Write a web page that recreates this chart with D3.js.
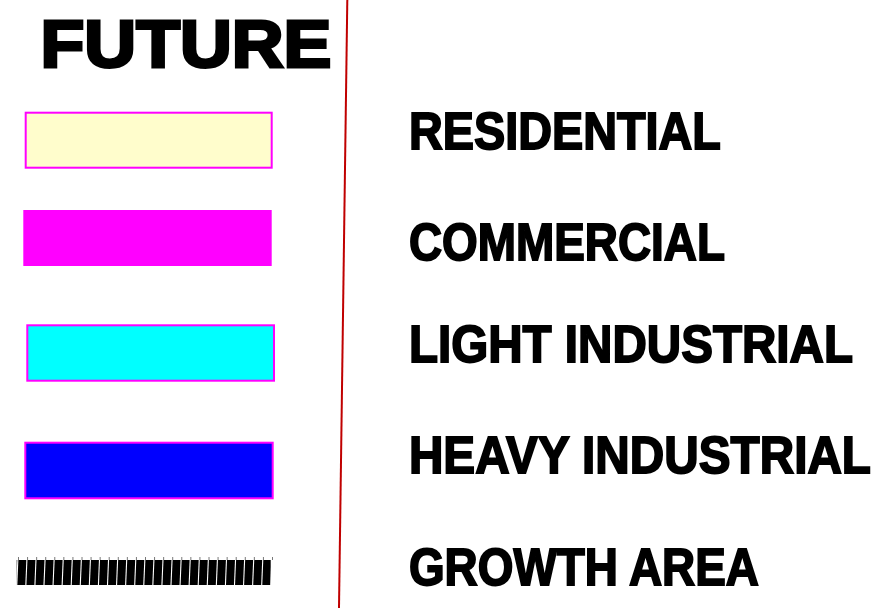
<!DOCTYPE html>
<html>
<head>
<meta charset="utf-8">
<script src="https://cdn.jsdelivr.net/npm/d3@7"></script>
<style>
html,body{margin:0;padding:0;background:#fff;}
svg{display:block;}
</style>
</head>
<body>
<script>
// ---- data ----
const title = "FUTURE";
const categories = ["RESIDENTIAL", "COMMERCIAL", "LIGHT INDUSTRIAL", "HEAVY INDUSTRIAL", "GROWTH AREA"];
const fills = ["#FFFDCC", "#FF00FF", "#00FFFF", "#0000FF", "hatch"];
const borders = ["#FF00FF", "none", "#FF00FF", "#FF00FF", "none"];
const hatchCount = 28;

// ---- layout (separate from data) ----
const W = 886, H = 608;
const swatchBox = [
  {x0: 25.7, x1: 271.7, y0: 112.7, y1: 167.7},
  {x0: 23.3, x1: 271.7, y0: 210, y1: 266},
  {x0: 27.3, x1: 274, y0: 325.3, y1: 380.7},
  {x0: 25.3, x1: 272.7, y0: 442.7, y1: 498.3},
  {x0: 16.7, x1: 270.7, y0: 560, y1: 585}
];
const labelBase = [149.3, 260, 361.7, 473.3, 585];
const labelWidth = [314, 318, 446, 464, 352];

const svg = d3.select("body").append("svg").attr("width", W).attr("height", H);

const font = "'Liberation Sans', Arial, sans-serif";

// helper: place text so its real geometry spans the given width
function fitText(sel, x, y, width, sw) {
  sel.each(function () {
    const len = this.getComputedTextLength();
    const s = (width - sw) / len;
    d3.select(this).attr("transform", `translate(${x + sw / 2},${y}) scale(${s},1)`);
  });
}

// title
const t = svg.append("text")
  .attr("x", 0).attr("y", 0)
  .attr("font-family", font).attr("font-weight", "bold")
  .attr("font-size", 66)
  .attr("fill", "#000").attr("stroke", "#000").attr("stroke-width", 3)
  .attr("stroke-linejoin", "miter")
  .text(title);
fitText(t, 39, 67, 294, 3);

// divider
svg.append("line")
  .attr("x1", 347.3).attr("y1", 0).attr("x2", 339).attr("y2", H)
  .attr("stroke", "#C00000").attr("stroke-width", 2);

const rows = svg.selectAll("g.row").data(categories).join("g").attr("class", "row");

// swatches
rows.filter((d, i) => fills[i] !== "hatch").append("rect")
  .attr("x", (d, i) => swatchBox[i].x0)
  .attr("y", (d, i) => swatchBox[i].y0)
  .attr("width", (d, i) => swatchBox[i].x1 - swatchBox[i].x0)
  .attr("height", (d, i) => swatchBox[i].y1 - swatchBox[i].y0)
  .attr("fill", (d, i) => fills[i])
  .attr("stroke", (d, i) => borders[i])
  .attr("stroke-width", 2);

// growth-area hatch
const gi = fills.indexOf("hatch");
const gb = swatchBox[gi];
const hx = d3.scaleLinear().domain([0, hatchCount]).range([gb.x0, gb.x1]);
const hatch = svg.append("g");
hatch.append("rect")
  .attr("x", gb.x0).attr("y", gb.y0)
  .attr("width", gb.x1 - gb.x0).attr("height", gb.y1 - gb.y0)
  .attr("fill", "#000");
hatch.selectAll("line.sep").data(d3.range(0, hatchCount + 1)).join("line")
  .attr("class", "sep")
  .attr("x1", d => hx(d) + 1.2).attr("y1", gb.y0 - 2)
  .attr("x2", d => hx(d)).attr("y2", gb.y1 + 2)
  .attr("stroke", "#fff").attr("stroke-width", 1.1);
hatch.selectAll("line.tick").data(d3.range(0, hatchCount + 1)).join("line")
  .attr("class", "tick")
  .attr("x1", d => hx(d) + 1.8).attr("y1", gb.y0 - 3)
  .attr("x2", d => hx(d) + 1.8).attr("y2", gb.y0)
  .attr("stroke", "#555").attr("stroke-width", 0.8);

// labels
const labels = rows.append("text")
  .attr("x", 0).attr("y", 0)
  .attr("font-family", font).attr("font-weight", "bold")
  .attr("font-size", 51)
  .attr("fill", "#000").attr("stroke", "#000").attr("stroke-width", 1.8)
  .text(d => d);
labels.each(function (d, i) {
  fitText(d3.select(this), 408, labelBase[i], labelWidth[i], 1.8);
});
</script>
</body>
</html>
